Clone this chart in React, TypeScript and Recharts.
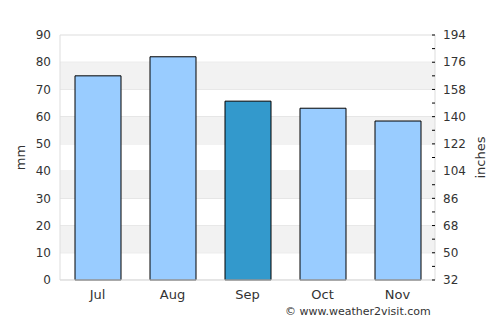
import React from 'react';
import { ComposedChart, Bar, Cell, XAxis, YAxis, CartesianGrid, ReferenceArea } from 'recharts';

const months = ['Jul', 'Aug', 'Sep', 'Oct', 'Nov'];
const rainfallMm = [75, 82, 65.7, 63.1, 58.4];
const highlightMonth = 'Sep';
const leftTicks = [0, 10, 20, 30, 40, 50, 60, 70, 80, 90];
const rightTicks = [32, 41, 50, 59, 68, 77, 86, 95, 104, 113, 122, 131, 140, 149, 158, 167, 176, 185, 194];
const bands = [[10, 20], [30, 40], [50, 60], [70, 80]];

const data = months.map((m, i) => ({ month: m, mm: rainfallMm[i] }));

const FONT = '"DejaVu Sans", sans-serif';

const RightTick = (props: any) => {
  const { x, y, payload } = props;
  const major = (payload.value - 32) % 18 === 0;
  return (
    <g>
      <line x1={x - 11} x2={x - 8} y1={y} y2={y} stroke="#000" strokeWidth={1} />
      {major && (
        <text x={x} y={y} dy="0.35em" textAnchor="start" fill="#333" fontSize={12} fontFamily={FONT}>
          {payload.value}
        </text>
      )}
    </g>
  );
};

export default function App() {
  return (
    <div style={{ position: 'absolute', left: 0, top: 0, width: 500, height: 325, fontFamily: FONT }}>
      <ComposedChart width={500} height={325} data={data} margin={{ top: 35, right: 0, bottom: 0, left: 0 }}>
        {bands.map(([a, b]) => (
          <ReferenceArea key={a} yAxisId="left" y1={a} y2={b} fill="#f2f2f2" fillOpacity={1} stroke="none" />
        ))}
        <CartesianGrid yAxisId="left" vertical={false} stroke="#dddddd" />
        <XAxis
          dataKey="month"
          height={45}
          axisLine={{ stroke: '#dddddd' }}
          tickLine={false}
          tickSize={6}
          tickMargin={4}
          tick={{ fill: '#333', fontSize: 13, fontFamily: FONT }}
        />
        <YAxis
          yAxisId="left"
          width={60}
          domain={[0, 90]}
          ticks={leftTicks}
          interval={0}
          axisLine={{ stroke: '#dddddd' }}
          tickLine={false}
          tickMargin={3}
          tick={{ fill: '#333', fontSize: 12, fontFamily: FONT }}
          label={{ value: 'mm', angle: -90, position: 'center', dx: -10, fill: '#333', fontSize: 13, fontFamily: FONT }}
        />
        <YAxis
          yAxisId="right"
          orientation="right"
          width={65}
          domain={[32, 194]}
          ticks={rightTicks}
          interval={0}
          allowDataOverflow
          axisLine={{ stroke: '#dddddd' }}
          tickLine={false}
          tick={<RightTick />}
          label={{ value: 'inches', angle: -90, position: 'center', dx: 13, fill: '#333', fontSize: 13, fontFamily: FONT }}
        />
        <Bar yAxisId="left" dataKey="mm" barSize={46} stroke="#000" strokeWidth={1} isAnimationActive={false}>
          {data.map((d) => (
            <Cell key={d.month} fill={d.month === highlightMonth ? '#3399cc' : '#99ccff'} />
          ))}
        </Bar>
      </ComposedChart>
      <div style={{ position: 'absolute', left: 285, top: 305, fontSize: 11, color: '#333', fontFamily: FONT, whiteSpace: 'nowrap' }}>
        © www.weather2visit.com
      </div>
    </div>
  );
}
